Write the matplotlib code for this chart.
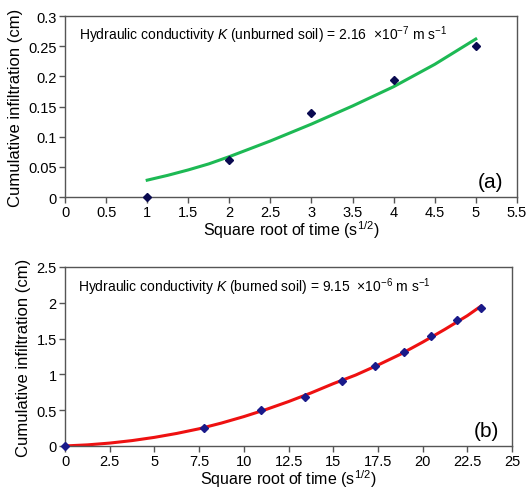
import matplotlib
matplotlib.use("Agg")
import matplotlib.pyplot as plt

plt.rcParams['font.family'] = ['Liberation Sans', 'DejaVu Sans']
plt.rcParams['mathtext.fontset'] = 'custom'
plt.rcParams['mathtext.rm'] = 'Liberation Sans'
plt.rcParams['mathtext.it'] = 'Liberation Sans:italic'

# Panel (a) unburned soil
a_x = [1, 2, 3, 4, 5]
a_y = [0.0, 0.062, 0.139, 0.194, 0.251]
a_fit_x = [1, 1.25, 1.5, 1.75, 2, 2.5, 3, 3.5, 4, 4.5, 5]
a_fit_y = [0.028, 0.036, 0.045, 0.055, 0.067, 0.093, 0.121, 0.151, 0.183, 0.220, 0.262]

# Panel (b) burned soil
b_x = [0, 7.75, 10.95, 13.42, 15.49, 17.32, 18.97, 20.49, 21.91, 23.24]
b_y = [0.0, 0.25, 0.50, 0.69, 0.91, 1.12, 1.31, 1.54, 1.76, 1.93]
b_fit_x = [0, 1.25, 2.5, 3.75, 5, 6.25, 7.5, 8.75, 10, 11.25, 12.5, 13.75, 15, 16.25, 17.5,
           18.75, 20, 21.25, 22.5, 23.24]
b_fit_y = [0.0, 0.015, 0.04, 0.075, 0.12, 0.175, 0.24, 0.32, 0.41, 0.51, 0.62, 0.74, 0.87,
           0.99, 1.13, 1.28, 1.45, 1.63, 1.82, 1.95]

a_xticks = [0, 0.5, 1, 1.5, 2, 2.5, 3, 3.5, 4, 4.5, 5, 5.5]
a_xticklabels = ['0', '0.5', '1', '1.5', '2', '2.5', '3', '3.5', '4', '4.5', '5', '5.5']
a_yticks = [0, 0.05, 0.1, 0.15, 0.2, 0.25, 0.3]
a_yticklabels = ['0', '0.05', '0.1', '0.15', '0.2', '0.25', '0.3']
b_xticks = [0, 2.5, 5, 7.5, 10, 12.5, 15, 17.5, 20, 22.5, 25]
b_xticklabels = ['0', '2.5', '5', '7.5', '10', '12.5', '15', '17.5', '20', '22.5', '25']
b_yticks = [0, 0.5, 1, 1.5, 2, 2.5]
b_yticklabels = ['0', '0.5', '1', '1.5', '2', '2.5']

fig = plt.figure(figsize=(5.29, 4.89), dpi=100)
ax1 = fig.add_axes([0.123, 0.595, 0.854, 0.370])
ax2 = fig.add_axes([0.123, 0.086, 0.845, 0.366])

frame_col = '#555555'
for ax in (ax1, ax2):
    for s in ax.spines.values():
        s.set_color(frame_col)
        s.set_linewidth(1.0)
    ax.tick_params(direction='out', length=4, width=1, colors='black',
                   labelsize=10.5, pad=2)
    ax.tick_params(axis='both', color=frame_col)

xlab = 'Square root of time (s$^{\\mathregular{1/2}}$)'
ax1.plot(a_fit_x, a_fit_y, color='#1db954', lw=2.2, zorder=2)
ax1.plot(a_x, a_y, 'D', color='#0a0a50', ms=4, zorder=3, clip_on=False)
ax1.set_xlim(0, 5.5)
ax1.set_ylim(0, 0.3)
ax1.set_xticks(a_xticks, a_xticklabels)
ax1.set_yticks(a_yticks, a_yticklabels)
ax1.set_xlabel(xlab, fontsize=11.5, labelpad=-1)
ax1.set_ylabel('Cumulative infiltration (cm)', fontsize=12, labelpad=4)
ax1.text(0.03, 0.90, 'Hydraulic conductivity $\\it{K}$ (unburned soil) = 2.16  \u00d710$^{-7}$ m s$^{-1}$',
         transform=ax1.transAxes, fontsize=10, va='center', ha='left')
ax1.text(0.97, 0.085, '(a)', transform=ax1.transAxes, fontsize=15, ha='right', va='center')

ax2.plot(b_fit_x, b_fit_y, color='#ee1111', lw=2.2, zorder=2)
ax2.plot(b_x, b_y, 'D', color='#1a1a8a', ms=4, zorder=3, clip_on=False)
ax2.set_xlim(0, 25)
ax2.set_ylim(0, 2.5)
ax2.set_xticks(b_xticks, b_xticklabels)
ax2.set_yticks(b_yticks, b_yticklabels)
ax2.set_xlabel(xlab, fontsize=11.5, labelpad=-1)
ax2.set_ylabel('Cumulative infiltration (cm)', fontsize=12, labelpad=4)
ax2.text(0.03, 0.895, 'Hydraulic conductivity $\\it{K}$ (burned soil) = 9.15  \u00d710$^{-6}$ m s$^{-1}$',
         transform=ax2.transAxes, fontsize=10, va='center', ha='left')
ax2.text(0.97, 0.085, '(b)', transform=ax2.transAxes, fontsize=15, ha='right', va='center')

fig.savefig('out.png', dpi=100)
